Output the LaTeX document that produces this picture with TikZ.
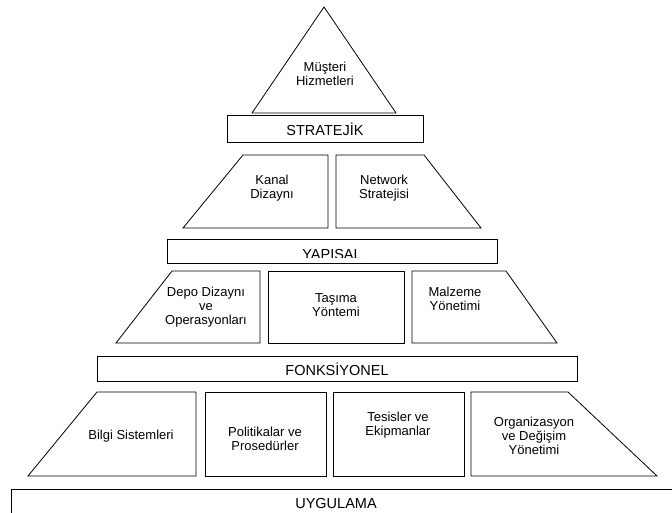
\documentclass[tikz,border=0pt]{standalone}
\usepackage{fontspec}
\setmainfont{Liberation Sans}
\begin{document}
\begin{tikzpicture}[x=1pt,y=-1pt,
  shp/.style={draw=black,line width=0.8pt,line join=miter},
  lbl/.style={font=\fontsize{13}{14}\selectfont,align=center,inner sep=0pt},
  lvl/.style={font=\fontsize{14.5}{16}\selectfont,inner sep=0pt}]
\useasboundingbox (0,0) rectangle (672,513);

% apex triangle
\draw[shp] (324,7) -- (396,113) -- (252,113) -- cycle;
\node[lbl] (musteri) at (325,74) {Müşteri\\Hizmetleri};

% STRATEJIK
\draw[shp] (227,115) rectangle (423,142);
\node[lvl] (strat) at (325,129) {STRATEJİK};

% row 2
\draw[shp] (243,155) -- (328,155) -- (328,228) -- (183,228) -- cycle;
\node[lbl] (kanal) at (272,188) {Kanal\\Dizaynı};
\draw[shp] (336,155) -- (424,155) -- (481,228) -- (336,228) -- cycle;
\node[lbl] (network) at (384,188) {Network\\Stratejisi};

% YAPISAL (text cut at its lower edge, as in the source)
\draw[shp] (167,239) rectangle (497,263);
\begin{scope}
  \clip (167,240) rectangle (497,257);
  \node[lvl] (yapisal) at (332,254.5) {YAPISAL};
\end{scope}

% row 3
\draw[shp] (172,271) -- (260,271) -- (260,343) -- (116,343) -- cycle;
\node[lbl] (depo) at (206,307) {Depo Dizaynı\\ve\\Operasyonları};
\draw[shp] (268,271) rectangle (404,343);
\node[lbl] (tasima) at (336,305) {Taşıma\\Yöntemi};
\draw[shp] (412,271) -- (506,271) -- (557,343) -- (412,343) -- cycle;
\node[lbl] (malzeme) at (455,299) {Malzeme\\Yönetimi};

% FONKSIYONEL
\draw[shp] (97,356) rectangle (577,381);
\node[lvl] (fonk) at (337,369) {FONKSİYONEL};

% row 4
\draw[shp] (97,392) -- (196,392) -- (196,476) -- (28,476) -- cycle;
\node[lbl] (bilgi) at (131,436) {Bilgi Sistemleri};
\draw[shp] (205,392) rectangle (326,476);
\node[lbl] (politika) at (265,439) {Politikalar ve\\Prosedürler};
\draw[shp] (333,392) rectangle (464,476);
\node[lbl] (tesis) at (398,425) {Tesisler ve\\Ekipmanlar};
\draw[shp] (471,392) -- (568,392) -- (657,476) -- (471,476) -- cycle;
\node[lbl] (org) at (534,436) {Organizasyon\\ve Değişim\\Yönetimi};

% UYGULAMA
\draw[shp] (674,489) -- (11,489) -- (11,515);
\node[lvl] (uyg) at (336,504) {UYGULAMA};
\end{tikzpicture}
\end{document}
